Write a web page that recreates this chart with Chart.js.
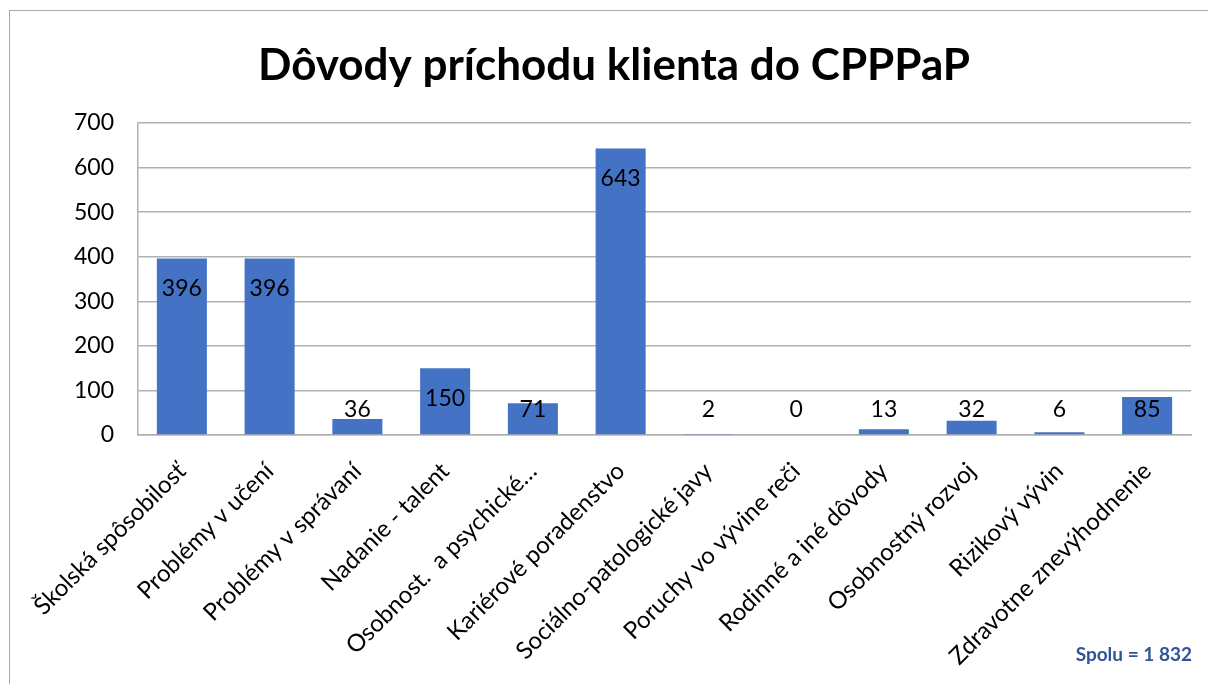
<!DOCTYPE html>
<html>
<head>
<meta charset="utf-8">
<script src="https://cdn.jsdelivr.net/npm/chart.js@4.4.1/dist/chart.umd.min.js"></script>
<style>
    body { margin: 0; background: #fff; overflow: hidden; }
    #wrap { position: relative; width: 1208px; height: 684px; }
    #frame { position: absolute; left: 9px; top: 10px; width: 1300px; height: 800px; border: 1px solid #a8a8a8; }
    canvas { position: absolute; left: 0; top: 0; }
</style>
</head>
<body>
<div id="wrap">
    <div id="frame"></div>
    <canvas id="reasonsChart" width="1208" height="684"></canvas>
</div>
<script>
// chart data
const categories = [
    'Školská spôsobilosť', 'Problémy v učení', 'Problémy v správaní', 'Nadanie - talent',
    'Osobnost.  a psychické…', 'Kariérové poradenstvo', 'Sociálno-patologické javy',
    'Poruchy vo vývine reči', 'Rodinné a iné dôvody', 'Osobnostný rozvoj',
    'Rizikový vývin', 'Zdravotne znevýhodnenie'
];
const clientCounts = [396, 396, 36, 150, 71, 643, 2, 0, 13, 32, 6, 85];
const yTicks = [0, 100, 200, 300, 400, 500, 600, 700];
const chartTitle = 'Dôvody príchodu klienta do CPPPaP';
const totalNote = 'Spolu = 1 832';

const fontFamily = 'Lato, "Open Sans", sans-serif';

// Function to draw title, value labels (Excel "inside end") and total
const chartTexts = {
    id: 'chartTexts',
    afterDatasetsDraw(chart) {
        const ctx = chart.ctx;
        const meta = chart.getDatasetMeta(0);
        const zeroY = chart.scales.y.getPixelForValue(0);
        ctx.save();
        ctx.font = '23px ' + fontFamily;
        ctx.fillStyle = '#000';
        ctx.textAlign = 'center';
        ctx.textBaseline = 'middle';
        meta.data.forEach((bar, i) => {
            let y = Math.min(bar.y + 30, zeroY - 25);
            ctx.fillText(String(clientCounts[i]), bar.x, y);
        });

        // title
        ctx.font = 'bold 44px ' + fontFamily;
        ctx.fillText(chartTitle, 614, 66);

        // total in bottom right corner
        ctx.font = 'bold 19px ' + fontFamily;
        ctx.fillStyle = '#2F5597';
        ctx.textAlign = 'right';
        ctx.fillText(totalNote, 1192, 655);
        ctx.restore();
    }
};

let reasonsChart = new Chart(document.getElementById('reasonsChart').getContext('2d'), {
    type: 'bar',
    data: {
        labels: categories,
        datasets: [{
            data: clientCounts,
            backgroundColor: '#4472C4',
            categoryPercentage: 1,
            barPercentage: 0.57
        }]
    },
    options: {
        responsive: false,
        animation: false,
        layout: { padding: { left: 0, right: 17, top: 123, bottom: 0 } },
        plugins: {
            legend: { display: false },
            tooltip: { enabled: false },
            title: { display: false }
        },
        scales: {
            x: {
                grid: { display: false },
                border: { display: true, color: '#b0b0b0', width: 1.5 },
                ticks: {
                    autoSkip: false,
                    minRotation: 45,
                    maxRotation: 45,
                    padding: 14,
                    color: '#000',
                    font: { family: fontFamily, size: 24 }
                },
                afterFit(scale) { scale.height = 249; }
            },
            y: {
                min: 0,
                max: 700,
                afterBuildTicks(scale) { scale.ticks = yTicks.map(v => ({ value: v })); },
                grid: { color: '#b0b0b0', lineWidth: 1.5, drawTicks: false },
                border: { display: true, color: '#b0b0b0', width: 1.5 },
                ticks: {
                    padding: 24,
                    color: '#000',
                    font: { family: fontFamily, size: 23 }
                },
                afterFit(scale) { scale.width = 138; }
            }
        }
    },
    plugins: [chartTexts]
});
</script>
</body>
</html>
